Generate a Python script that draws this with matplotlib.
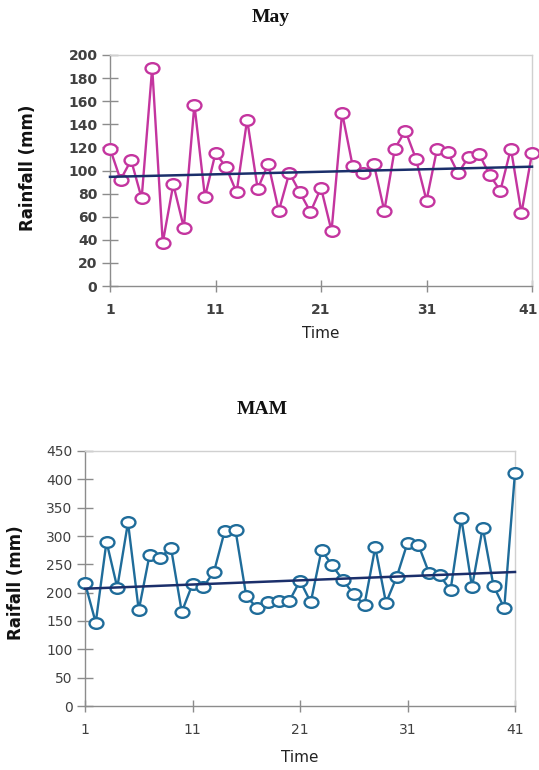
import numpy as np
import matplotlib
matplotlib.use("Agg")
import matplotlib.pyplot as plt
from matplotlib.path import Path
from matplotlib.transforms import Affine2D, ScaledTranslation

# ---- data ----
time = list(range(1, 42))
may_rain = [119, 92, 109, 76, 189, 37.5, 88, 50.5, 157, 77,
            115, 103, 81, 144, 84, 106, 65, 98, 81, 64,
            85, 47.6, 150, 104, 97.5, 106, 65, 119, 134.5, 110,
            74, 118.6, 116, 97.5, 112, 114, 96, 82.5, 119, 63, 115]
mam_rain = [217, 147, 290, 209, 324, 169, 266, 262, 279, 166,
            215, 210, 237, 309, 310, 194, 173, 184, 185, 185,
            221, 183, 275, 248, 222, 197, 179, 280, 182, 228,
            288, 285, 235, 231, 204, 332, 210, 315, 212, 173, 412]
# linear trend end values as drawn (at time 1 and 41)
may_trend = [94.5, 103.3]
mam_trend = [207, 236.5]
x_ticks = [1, 11, 21, 31, 41]
may_yticks = list(range(0, 201, 20))
mam_yticks = list(range(0, 451, 50))

W, H = 539, 770
fig = plt.figure(figsize=(W / 100, H / 100), dpi=100)

def px(x, y):
    return x / W, 1 - y / H

def ax_rect(l, t, r, b):
    return [l / W, 1 - b / H, (r - l) / W, (b - t) / H]

ell = Path.unit_circle().transformed(Affine2D().scale(1.3, 1.0))

def panel(rect, y, trend, color, yticks, ymax, bold_ticks):
    ax = fig.add_axes(rect)
    ax.plot(time, y, color=color, lw=1.7, marker=ell, ms=10,
            mfc='white', mec=color, mew=1.7, clip_on=False, zorder=3)
    ax.plot([time[0], time[-1]], trend, color='#1B2F6B', lw=1.8, zorder=4, clip_on=False)
    ax.set_xlim(1, 41)
    ax.set_ylim(0, ymax)
    ax.set_xticks(x_ticks)
    ax.set_yticks(yticks)
    for s in ['top', 'right']:
        ax.spines[s].set_color('#D0D0D0')
        ax.spines[s].set_linewidth(1.0)
    for s in ['left', 'bottom']:
        ax.spines[s].set_color('#8C8C8C')
        ax.spines[s].set_linewidth(1.0)
    ax.tick_params(axis='y', direction='inout', length=12, width=1.0, color='#8C8C8C',
                   labelsize=10, labelcolor='#404040', pad=3)
    ax.tick_params(axis='x', direction='inout', length=9, width=1.0, color='#8C8C8C',
                   labelsize=10, labelcolor='#404040', pad=8)
    if bold_ticks:
        for lab in ax.get_xticklabels() + ax.get_yticklabels():
            lab.set_fontweight('bold')
    return ax

ax1 = panel(ax_rect(110, 55, 532, 286), may_rain, may_trend, '#C4359F', may_yticks, 200, True)
ax2 = panel(ax_rect(85, 451, 515, 706), mam_rain, mam_trend, '#1F6C9A', mam_yticks, 450, False)

# nudge the last tick label of the top panel so it stays inside the figure
last = ax1.get_xticklabels()[-1]
last.set_transform(last.get_transform() + ScaledTranslation(-4 / 100, 0, fig.dpi_scale_trans))

# titles
fig.text(*px(271, 17), 'May', ha='center', va='center', fontsize=14,
         fontweight='bold', family='Liberation Serif', color='#111111')
fig.text(*px(262, 409), 'MAM', ha='center', va='center', fontsize=14,
         fontweight='bold', family='Liberation Serif', color='#111111')

# axis labels
fig.text(*px(28, 168), 'Rainfall (mm)', rotation=90, ha='center', va='center',
         fontsize=12, fontweight='bold', color='#111111')
fig.text(*px(16, 583), 'Raifall (mm)', rotation=90, ha='center', va='center',
         fontsize=12, fontweight='bold', color='#111111')
fig.text(*px(321, 333), 'Time', ha='center', va='center', fontsize=11, color='#222222')
fig.text(*px(300, 757), 'Time', ha='center', va='center', fontsize=11, color='#222222')

fig.savefig('out.png', dpi=100)
